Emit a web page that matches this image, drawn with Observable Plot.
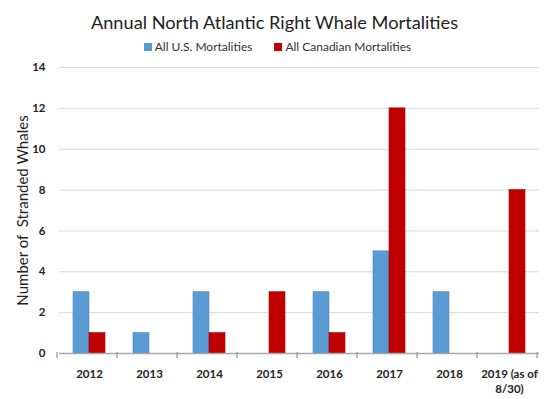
<!DOCTYPE html>
<html>
<head>
<meta charset="utf-8">
<script src="https://cdn.jsdelivr.net/npm/d3@7"></script>
<script src="https://cdn.jsdelivr.net/npm/@observablehq/plot@0.6"></script>
<style>
  html, body { margin: 0; padding: 0; background: #fff; }
  body { width: 549px; height: 399px; overflow: hidden; font-family: Lato, "Open Sans", sans-serif; }
  #title { height: 34px; line-height: 34px; padding-top: 5px; text-align: center; font-size: 18.2px; color: #222; }
  #legend { height: 16px; line-height: 16px; display: flex; justify-content: center; gap: 22px; font-size: 12px; color: #333; padding-left: 6px; }
  #legend span.sw { display: inline-block; width: 8px; height: 8px; margin-right: 3px; vertical-align: 0px; }
  #chart svg { display: block; }
</style>
</head>
<body>
<div id="title">Annual North Atlantic Right Whale Mortalities</div>
<div id="legend"></div>
<div id="chart"></div>
<script>
const years = ["2012", "2013", "2014", "2015", "2016", "2017", "2018", "2019 (as of\n8/30)"];
const seriesNames = ["All U.S. Mortalities", "All Canadian Mortalities"];
const seriesColors = ["#5b9bd5", "#c00000"];
const usValues = [3, 1, 3, 0, 3, 5, 3, 0];
const canadaValues = [1, 0, 1, 3, 1, 12, 0, 8];
const yTicks = [0, 2, 4, 6, 8, 10, 12, 14];

const data = [];
years.forEach((y, i) => {
  data.push({year: y, series: seriesNames[0], value: usValues[i]});
  data.push({year: y, series: seriesNames[1], value: canadaValues[i]});
});

const legend = document.getElementById("legend");
seriesNames.forEach((n, i) => {
  const d = document.createElement("div");
  d.innerHTML = `<span class="sw" style="background:${seriesColors[i]}"></span>${n}`;
  legend.appendChild(d);
});

const plot = Plot.plot({
  width: 549,
  height: 344,
  marginTop: 12,
  marginBottom: 46,
  marginLeft: 57,
  marginRight: 8,
  style: {fontFamily: "Lato, 'Open Sans', sans-serif", background: "#fff"},
  fx: {domain: years, paddingInner: 0, paddingOuter: 0, label: null},
  x: {domain: seriesNames, paddingInner: 0, paddingOuter: 0.78, axis: null},
  y: {domain: [0, 14], label: null},
  color: {domain: seriesNames, range: seriesColors},
  marks: [
    Plot.gridY(yTicks, {stroke: "#d9d9d9", strokeOpacity: 1, strokeWidth: 1}),
    Plot.barY(data, {fx: "year", x: "series", y: "value", fill: "series", stroke: d => d.series === seriesNames[0] ? "#4a86bf" : "#a00000", strokeWidth: 0.6}),
    Plot.ruleY([0], {stroke: "#a6a6a6", strokeWidth: 1.5}),
    Plot.axisY(yTicks, {tickSize: 0, tickPadding: 14, fontSize: 11.5, fontWeight: "bold", fill: "#222",
      label: "Number of  Stranded Whales", labelAnchor: "center", labelOffset: 42, labelArrow: "none"}),
    Plot.axisFx({anchor: "bottom", tickSize: 0, tickPadding: 14, fontSize: 11.5, fontWeight: "bold", fill: "#222", label: null, lineHeight: 1.3})
  ]
});
document.getElementById("chart").appendChild(plot);

// Boundary tick marks on the category axis, from the plot's own scales
const fx = plot.scale("fx");
const ys = plot.scale("y");
const y0 = ys.apply(0);
const step = fx.step;
const svg = d3.select(plot);
const g = svg.append("g").attr("stroke", "#a6a6a6").attr("stroke-width", 1.5);
for (let i = 0; i <= years.length; i++) {
  const xx = fx.range[0] + i * step;
  g.append("line").attr("x1", xx).attr("x2", xx).attr("y1", y0 - 1).attr("y2", y0 + 5);
}
svg.selectAll("text").filter(function() { return this.textContent === "Number of  Stranded Whales"; })
  .attr("font-size", 15).attr("font-weight", "normal").attr("fill", "#222").style("white-space", "pre");
</script>
</body>
</html>
